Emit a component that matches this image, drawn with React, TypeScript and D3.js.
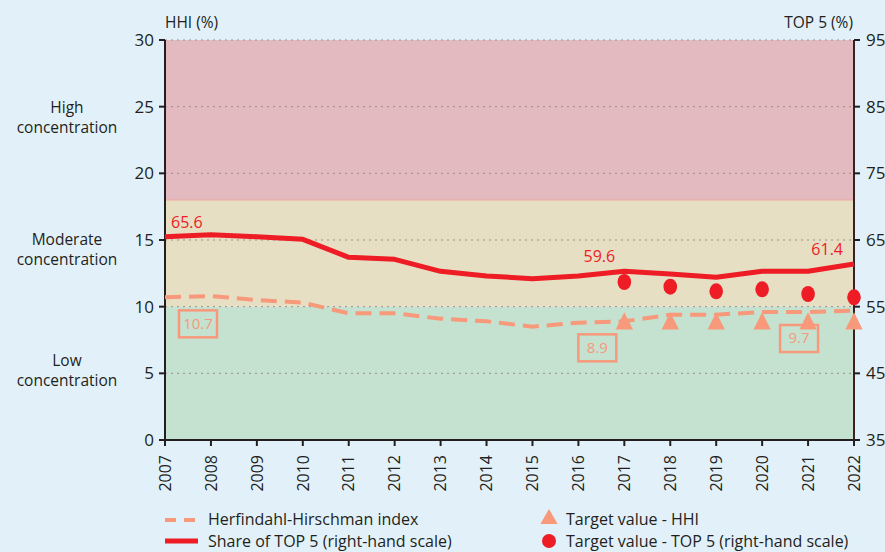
import React from "react";
import * as d3 from "d3";

const years = [2007, 2008, 2009, 2010, 2011, 2012, 2013, 2014, 2015, 2016, 2017, 2018, 2019, 2020, 2021, 2022];
const hhi = [10.7, 10.8, 10.5, 10.3, 9.5, 9.5, 9.1, 8.9, 8.5, 8.8, 8.9, 9.4, 9.4, 9.6, 9.6, 9.7];
const top5 = [65.5, 65.8, 65.5, 65.1, 62.4, 62.1, 60.3, 59.6, 59.2, 59.6, 60.3, 59.9, 59.4, 60.3, 60.3, 61.4];
const targetYears = [2017, 2018, 2019, 2020, 2021, 2022];
const targetHHI = [8.8, 8.8, 8.8, 8.8, 8.8, 8.8];
const targetTop5 = [58.7, 58.0, 57.3, 57.6, 56.9, 56.4];
const leftTicks = [0, 5, 10, 15, 20, 25, 30];
const rightTicks = [35, 45, 55, 65, 75, 85, 95];
const bands = [
  { from: 0, to: 10, color: "#c5e2d0", label: ["Low", "concentration"], mid: 5.25 },
  { from: 10, to: 18, color: "#e6dfc3", label: ["Moderate", "concentration"], mid: 14.3 },
  { from: 18, to: 30, color: "#e2bac0", label: ["High", "concentration"], mid: 24.25 },
];
const top5Labels = [
  { year: 2007, text: "65.6" },
  { year: 2017, text: "59.6" },
  { year: 2022, text: "61.4" },
];
const hhiLabels = [
  { year: 2007, text: "10.7" },
  { year: 2017, text: "8.9" },
  { year: 2021, text: "9.7" },
];

const RED = "#ee1c25";
const SALMON = "#f7997a";
const INK = "#231f20";
const FONT = "'Open Sans', 'Noto Sans', sans-serif";

export default function App() {
  const W = 885, H = 552;
  const x0 = 165, x1 = 854, yTop = 40, yBot = 440;
  const x = d3.scaleLinear().domain([2007, 2022]).range([x0, x1]);
  const yL = d3.scaleLinear().domain([0, 30]).range([yBot, yTop]);
  const yR = d3.scaleLinear().domain([35, 95]).range([yBot, yTop]);

  const hhiLine = d3.line<number>().x((_, i) => x(years[i])).y((d) => yL(d));
  const topLine = d3.line<number>().x((_, i) => x(years[i])).y((d) => yR(d));
  const tri = d3.symbol().type(d3.symbolTriangle).size(130)();

  return (
    <svg width={W} height={H} style={{ position: "absolute", left: 0, top: 0, display: "block" }} fontFamily={FONT}>
      <rect x={0} y={0} width={W} height={H} fill="#e2f1f9" />
      {bands.map((b, i) => (
        <rect key={i} x={x0} y={yL(b.to)} width={x1 - x0} height={yL(b.from) - yL(b.to)} fill={b.color} />
      ))}
      <line x1={x0} x2={x1} y1={yL(18)} y2={yL(18)} stroke="#f0a89a" strokeWidth={1} />
      {leftTicks.filter((t) => t > 0).map((t) => (
        <line key={t} x1={x0} x2={x1} y1={yL(t)} y2={yL(t)} stroke="#9a8f8a" strokeWidth={1} strokeDasharray="2,4" />
      ))}
      {bands.map((b, i) => (
        <g key={i}>
          <text x={67} y={yL(b.mid) - 4} textAnchor="middle" fontSize={15.5} fill={INK}>{b.label[0]}</text>
          <text x={67} y={yL(b.mid) + 16} textAnchor="middle" fontSize={15.5} fill={INK}>{b.label[1]}</text>
        </g>
      ))}
      {/* axes */}
      <line x1={x0} x2={x0} y1={yTop} y2={yBot + 1} stroke={INK} strokeWidth={2} />
      <line x1={x1} x2={x1} y1={yTop} y2={yBot + 1} stroke="#3a2222" strokeWidth={2} />
      <line x1={x0} x2={x1} y1={yBot} y2={yBot} stroke={INK} strokeWidth={2} />
      {leftTicks.map((t) => (
        <g key={t}>
          <line x1={x0 - 6} x2={x0} y1={yL(t)} y2={yL(t)} stroke={INK} strokeWidth={2} />
          <text x={x0 - 11} y={yL(t)} dy="0.36em" textAnchor="end" fontSize={17} fill={INK}>{t}</text>
        </g>
      ))}
      {rightTicks.map((t) => (
        <g key={t}>
          <line x1={x1} x2={x1 + 6} y1={yR(t)} y2={yR(t)} stroke={INK} strokeWidth={2} />
          <text x={x1 + 12} y={yR(t)} dy="0.36em" textAnchor="start" fontSize={17} fill={INK}>{t}</text>
        </g>
      ))}
      {years.map((yr) => (
        <g key={yr}>
          <line x1={x(yr)} x2={x(yr)} y1={yBot} y2={yBot + 6} stroke={INK} strokeWidth={2} />
          <text transform={`translate(${x(yr)},${yBot + 15}) rotate(-90)`} dy="0.36em" textAnchor="end" fontSize={16} fill={INK}>{yr}</text>
        </g>
      ))}
      <text x={x0} y={28} fontSize={15.5} fill={INK}>HHI (%)</text>
      <text x={x1 - 1} y={28} fontSize={15.5} fill={INK} textAnchor="end">TOP 5 (%)</text>
      {/* series */}
      <path d={hhiLine(hhi) || ""} fill="none" stroke={SALMON} strokeWidth={4} strokeDasharray="16,8" />
      <path d={topLine(top5) || ""} fill="none" stroke={RED} strokeWidth={5} strokeLinejoin="round" />
      {targetYears.map((yr, i) => (
        <path key={"t" + yr} d={tri || ""} transform={`translate(${x(yr)},${yL(targetHHI[i]) + 1}) scale(1,1.15)`} fill={SALMON} />
      ))}
      {targetYears.map((yr, i) => (
        <ellipse key={"c" + yr} cx={x(yr)} cy={yR(targetTop5[i])} rx={6.8} ry={8} fill={RED} />
      ))}
      {top5Labels.map((l) => {
        const i = years.indexOf(l.year);
        const anchor = l.year === 2007 ? "start" : l.year === 2022 ? "end" : "middle";
        const xx = l.year === 2007 ? x(l.year) + 6 : l.year === 2022 ? x(l.year) - 11 : x(l.year) - 25;
        return (
          <text key={l.year} x={xx} y={yR(top5[i]) - 9} textAnchor={anchor} fontSize={16} fill={RED}>{l.text}</text>
        );
      })}
      {hhiLabels.map((l) => {
        const i = years.indexOf(l.year);
        const cx = l.year === 2007 ? x(l.year) + 33 : x(l.year) - 27 + (l.year === 2021 ? 18 : 0);
        const cy = yL(hhi[i]) + 26;
        return (
          <g key={l.year}>
            <rect x={cx - 19} y={cy - 13} width={38} height={27} fill="none" stroke={SALMON} strokeWidth={2.5} />
            <text x={cx} y={cy} dy="0.36em" textAnchor="middle" fontSize={15} fill={SALMON}>{l.text}</text>
          </g>
        );
      })}
      {/* legend */}
      <line x1={165} x2={198} y1={520} y2={520} stroke={SALMON} strokeWidth={4} strokeDasharray="11,8" />
      <text x={208} y={519} dy="0.36em" fontSize={16} fill={INK}>Herfindahl-Hirschman index</text>
      <line x1={165} x2={198} y1={541} y2={541} stroke={RED} strokeWidth={5} />
      <text x={208} y={541} dy="0.36em" fontSize={16} fill={INK}>Share of TOP 5 (right-hand scale)</text>
      <path d={tri || ""} transform="translate(549,519)" fill={SALMON} />
      <text x={566} y={519} dy="0.36em" fontSize={16} fill={INK}>Target value - HHI</text>
      <circle cx={549} cy={541} r={7} fill={RED} />
      <text x={566} y={541} dy="0.36em" fontSize={16} fill={INK}>Target value - TOP 5 (right-hand scale)</text>
    </svg>
  );
}
